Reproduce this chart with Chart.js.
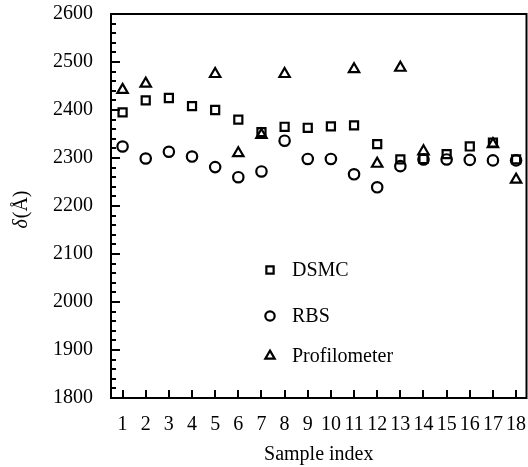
<!DOCTYPE html>
<html>
<head>
<meta charset="utf-8">
<script src="https://cdn.jsdelivr.net/npm/chart.js@4.4.1/dist/chart.umd.min.js"></script>
<style>
  html, body { margin: 0; padding: 0; background: #fff; }
  #wrap { width: 528px; height: 467px; }
</style>
</head>
<body>
<div id="wrap"><canvas id="chart" width="528" height="467"></canvas></div>
<script>
// sample positions along the x axis
const sampleIndex = [1, 2, 3, 4, 5, 6, 7, 8, 9, 10, 11, 12, 13, 14, 15, 16, 17, 18];

// thickness values (Å)
const dsmc = [2395, 2420, 2425, 2408, 2400, 2380, 2354, 2365, 2363, 2366, 2368, 2329, 2297, 2298, 2308, 2324, 2332, 2297];
const rbs = [2324, 2299, 2313, 2303, 2281, 2260, 2272, 2336, 2298, 2298, 2266, 2239, 2283, 2297, 2297, 2296, 2295, 2295];
const profilometer = [2442, 2455, null, null, 2475, 2310, 2348, 2475, null, null, 2485, 2288, 2488, 2314, null, null, 2329, 2255];

const yTicks = [1800, 1900, 2000, 2100, 2200, 2300, 2400, 2500, 2600];
const seriesNames = ["DSMC", "RBS", "Profilometer"];

const FONT = "'Liberation Serif', 'Times New Roman', serif";

const toPoints = (vals) => sampleIndex
    .map((x, i) => ({ x: x, y: vals[i] }))
    .filter(p => p.y !== null);

const markerStyle = (shape, r) => ({
    pointStyle: shape,
    pointRadius: r,
    pointHoverRadius: r,
    pointBorderWidth: 2.2,
    pointBorderColor: "#000",
    pointBackgroundColor: "rgba(0,0,0,0)",
    showLine: false,
    clip: false
});

const datasets = [
    Object.assign({ label: seriesNames[0], data: toPoints(dsmc) }, markerStyle("rect", 5.7)),
    Object.assign({ label: seriesNames[1], data: toPoints(rbs) }, markerStyle("circle", 5.2)),
    Object.assign({ label: seriesNames[2], data: toPoints(profilometer) }, markerStyle("triangle", 6))
];

// frame, inward ticks, legend and y title
const framePlugin = {
    id: "frame",
    afterDraw(chart) {
        const ctx = chart.ctx;
        const a = chart.chartArea;
        const xs = chart.scales.x;
        const ys = chart.scales.y;
        ctx.save();
        ctx.strokeStyle = "#000";
        ctx.lineWidth = 2;
        ctx.strokeRect(a.left, a.top, a.right - a.left, a.bottom - a.top);

        // y ticks, major every 100, minor every 20
        ctx.beginPath();
        for (let v = 1800; v <= 2600; v += 20) {
            const py = Math.round(ys.getPixelForValue(v));
            const len = (v % 100 === 0) ? 9 : 5;
            ctx.moveTo(a.left, py);
            ctx.lineTo(a.left + len, py);
        }
        sampleIndex.forEach(v => {
            const px = Math.round(xs.getPixelForValue(v));
            ctx.moveTo(px, a.bottom);
            ctx.lineTo(px, a.bottom - 8);
        });
        ctx.stroke();

        // legend inside the plot
        const lx = a.left + 159;
        const rows = [270, 316, 356];
        ctx.font = "20px " + FONT;
        ctx.fillStyle = "#000";
        ctx.textBaseline = "middle";
        chart.data.datasets.forEach((ds, i) => {
            const opts = {
                pointStyle: ds.pointStyle,
                radius: ds.pointRadius * 0.9,
                rotation: 0,
                borderWidth: 2
            };
            ctx.save();
            ctx.fillStyle = "rgba(0,0,0,0)";
            ctx.strokeStyle = "#000";
            ctx.lineWidth = 2.2;
            Chart.helpers.drawPoint(ctx, opts, lx, rows[i]);
            ctx.restore();
            ctx.fillText(ds.label, lx + 22, rows[i] + 1);
        });

        // y axis title: italic delta then (Å)
        ctx.translate(22, 210);
        ctx.rotate(-Math.PI / 2);
        ctx.textBaseline = "middle";
        ctx.textAlign = "left";
        const italic = "italic 20px " + FONT;
        const normal = "20px " + FONT;
        ctx.font = italic;
        const w1 = ctx.measureText("δ").width;
        ctx.font = normal;
        const w2 = ctx.measureText("(Å)").width;
        const start = -(w1 + w2) / 2;
        ctx.font = italic;
        ctx.fillText("δ", start, 0);
        ctx.font = normal;
        ctx.fillText("(Å)", start + w1 + 1, 0);
        ctx.restore();
    }
};

new Chart(document.getElementById("chart"), {
    type: "scatter",
    data: { datasets: datasets },
    options: {
        responsive: false,
        animation: false,
        layout: {
            autoPadding: false,
            padding: { top: 14, right: 1.5, left: 0, bottom: 0 }
        },
        plugins: {
            legend: { display: false },
            tooltip: { enabled: false }
        },
        scales: {
            x: {
                type: "linear",
                min: 0.5,
                max: 18.45,
                grid: { display: false, drawTicks: false },
                border: { display: false },
                afterBuildTicks: (scale) => {
                    scale.ticks = sampleIndex.map(v => ({ value: v }));
                },
                afterFit: (scale) => {
                    scale.height = 69;
                    scale.paddingLeft = 0;
                    scale.paddingRight = 0;
                },
                ticks: {
                    autoSkip: false,
                    maxRotation: 0,
                    padding: 15,
                    color: "#000",
                    font: { family: FONT, size: 20 },
                    callback: (v) => String(v)
                },
                title: {
                    display: true,
                    text: "Sample index",
                    color: "#000",
                    font: { family: FONT, size: 20 },
                    padding: { top: 0, bottom: 0 }
                }
            },
            y: {
                type: "linear",
                min: 1800,
                max: 2600,
                grid: { display: false, drawTicks: false },
                border: { display: false },
                afterBuildTicks: (scale) => {
                    scale.ticks = yTicks.map(v => ({ value: v }));
                },
                afterFit: (scale) => {
                    scale.width = 111;
                    scale.paddingTop = 0;
                    scale.paddingBottom = 0;
                },
                ticks: {
                    padding: 18,
                    color: "#000",
                    font: { family: FONT, size: 20 },
                    callback: (v) => String(v)
                }
            }
        }
    },
    plugins: [framePlugin]
});
</script>
</body>
</html>
